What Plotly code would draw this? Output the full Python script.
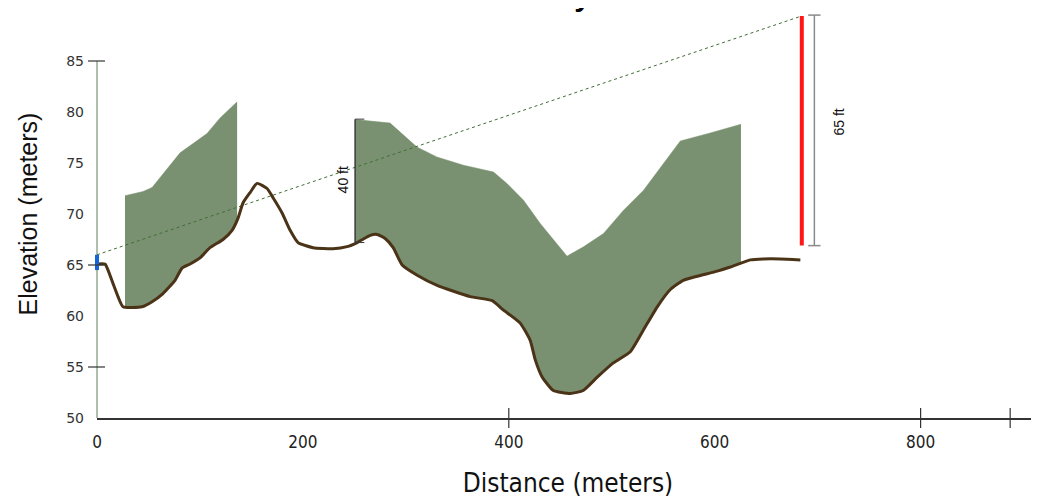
import plotly.graph_objects as go

# ---------------- data (meters / elevation in meters) ----------------
terrain_x = [0, 7.8, 10.7, 15.5, 20.4, 25.3, 43.7, 53.5, 64.1, 75.8, 82.6, 90.4, 100.1, 109.8,
             122.4, 131.2, 137.0, 141.9, 148.7, 155.5, 165.2, 171.0, 179.8, 187.6, 195.3, 209.9,
             229.3, 242.9, 252.7, 265.3, 272.1, 279.9, 287.7, 296.4, 311.0, 330.4, 362.5, 383.9,
             394.6, 411.1, 420.8, 425.7, 432.5, 443.2, 459.7, 472.3, 485.9, 501.5, 518.0, 530.6,
             544.2, 556.9, 569.5, 583.1, 602.5, 615.2, 634.6, 647.2, 663.8, 683.2]
terrain_elev = [65.1, 65.1, 64.5, 63.2, 61.9, 60.9, 60.9, 61.4, 62.2, 63.5, 64.7, 65.1, 65.7, 66.7,
                67.5, 68.4, 69.6, 71.1, 72.1, 73.0, 72.5, 71.6, 70.1, 68.4, 67.2, 66.7,
                66.6, 66.8, 67.2, 67.9, 68.0, 67.6, 66.7, 65.0, 64.0, 63.0, 61.9, 61.5,
                60.6, 59.3, 57.6, 55.7, 54.0, 52.7, 52.4, 52.7, 54.0, 55.4, 56.5, 58.6,
                60.9, 62.6, 63.5, 63.9, 64.4, 64.8, 65.5, 65.6, 65.6, 65.5]

# visible zones: upper boundary
zone1_x = [27.2, 44.7, 53.5, 70.9, 80.7, 93.3, 106.9, 119.5, 136.1]
zone1_top = [71.8, 72.2, 72.6, 74.8, 76.0, 76.9, 77.9, 79.4, 81.0]
zone1_bottom_ends = [60.9, 69.6]

zone2_x = [250.7, 284.7, 296.1, 310.7, 330.1, 356.0, 385.1, 398.2, 414.3, 430.5, 456.5,
           472.6, 492.0, 511.5, 530.9, 550.3, 566.6, 595.7, 625.5]
zone2_top = [79.26, 78.92, 77.88, 76.57, 75.59, 74.78, 74.12, 72.99, 71.35, 69.07, 65.87,
             66.78, 68.09, 70.37, 72.33, 74.95, 77.16, 77.94, 78.8]
zone2_bottom_ends = [67.2, 65.2]

# line of sight: observer -> target
sight_x = [0, 684.0]
sight_elev = [66.0, 89.4]

observer_elev = [64.5, 66.0]
target_x = 684.6
target_elev = [66.9, 89.4]

dim40_x = 250.7
dim40_elev = [67.2, 79.3]
dim65_x = 696.8
dim65_elev = [66.9, 89.5]

x_ticks = [0, 200, 400, 600, 800]
x_tick_marks = [400, 800, 887]
y_ticks = [50, 55, 60, 65, 70, 75, 80, 85]
y_tick_marks = [55, 65, 85]

X_MAX = 915
Y_RANGE = [50, 90]

FILL = "rgb(121,145,113)"
TERRAIN = "#4a3317"
NARROW = "DejaVu Sans Condensed, Liberation Sans Narrow, Arial Narrow, Liberation Sans"

# page has an 8px body margin, so the figure is sized to fit the window
FIG_W, FIG_H = 1031, 490
M_L, M_R, M_T, M_B = 89, 0, 2, 80
PLOT_W = FIG_W - M_L - M_R
PLOT_H = FIG_H - M_T - M_B

# ---------------- figure ----------------
fig = go.Figure()


def zone_bottom(xs, ends):
    bx = [xs[0]] + [x for x in terrain_x if xs[0] < x < xs[-1]] + [xs[-1]]
    be = [ends[0]] + [e for x, e in zip(terrain_x, terrain_elev) if xs[0] < x < xs[-1]] + [ends[1]]
    return bx, be


for zx, zt, ze in [(zone1_x, zone1_top, zone1_bottom_ends), (zone2_x, zone2_top, zone2_bottom_ends)]:
    bx, be = zone_bottom(zx, ze)
    fig.add_trace(go.Scatter(x=bx, y=be, mode="lines", line=dict(width=0, color=FILL),
                             hoverinfo="skip", showlegend=False))
    fig.add_trace(go.Scatter(x=zx, y=zt, mode="lines", line=dict(width=0.5, color=FILL),
                             fill="tonexty", fillcolor=FILL, hoverinfo="skip", showlegend=False))

# line of sight
fig.add_trace(go.Scatter(x=sight_x, y=sight_elev, mode="lines",
                         line=dict(color="#3f6e35", width=1, dash="dot"), showlegend=False))

# terrain profile
fig.add_trace(go.Scatter(x=terrain_x, y=terrain_elev, mode="lines",
                         line=dict(color=TERRAIN, width=3, shape="spline", smoothing=0.5),
                         showlegend=False))

# target (red)
fig.add_trace(go.Scatter(x=[target_x, target_x], y=target_elev, mode="lines",
                         line=dict(color="#ff1616", width=4), showlegend=False))

# 40 ft dimension
fig.add_trace(go.Scatter(x=[dim40_x, dim40_x], y=dim40_elev, mode="lines",
                         line=dict(color="#3a3a3a", width=1.5), showlegend=False))
# 65 ft dimension
fig.add_trace(go.Scatter(x=[dim65_x, dim65_x], y=dim65_elev, mode="lines",
                         line=dict(color="#8a8a8a", width=1.5), showlegend=False))

shapes = []
for e in dim65_elev:
    shapes.append(dict(type="line", xref="x", yref="y", x0=dim65_x - 6, x1=dim65_x + 6, y0=e, y1=e,
                       line=dict(color="#8a8a8a", width=1.5)))
for e in dim40_elev:
    shapes.append(dict(type="line", xref="x", yref="y", x0=dim40_x, x1=dim40_x + 9, y0=e, y1=e,
                       line=dict(color="#3a3a3a", width=1)))

# y axis line (ends at 85)
shapes.append(dict(type="line", xref="paper", yref="y", x0=0, x1=0, y0=50, y1=85,
                   line=dict(color="#93ab8f", width=1.5), layer="below"))
# observer (blue)
shapes.append(dict(type="line", xref="paper", yref="y", x0=0, x1=0,
                   y0=observer_elev[0], y1=observer_elev[1],
                   line=dict(color="#1565d8", width=4)))
# crossing tick marks
for v in y_tick_marks:
    shapes.append(dict(type="line", xref="paper", yref="y", x0=-9 / PLOT_W, x1=8 / PLOT_W, y0=v, y1=v,
                       line=dict(color="#333", width=1.2)))
for v in x_tick_marks:
    shapes.append(dict(type="line", xref="x", yref="paper", x0=v, x1=v,
                       y0=-10 / PLOT_H, y1=10 / PLOT_H,
                       line=dict(color="#333", width=1.2)))

annotations = [
    dict(text="40 ft", x=239, y=73.3, xref="x", yref="y", textangle=-90, showarrow=False,
         font=dict(family="Liberation Sans, Arial", size=14, color="#111")),
    dict(text="65 ft", x=721, y=79.0, xref="x", yref="y", textangle=-90, showarrow=False,
         font=dict(family="Liberation Sans, Arial", size=14, color="#111")),
    dict(text="<b>Visibility</b>", x=0.527, y=1 - 4 / PLOT_H, xref="paper", yref="paper",
         xanchor="right", yanchor="bottom", showarrow=False,
         font=dict(family="Liberation Sans, Arial", size=30, color="#000")),
]

fig.update_layout(
    template="none",
    width=FIG_W, height=FIG_H, autosize=False,
    margin=dict(l=M_L, r=M_R, t=M_T, b=M_B, pad=0),
    plot_bgcolor="white", paper_bgcolor="white",
    shapes=shapes, annotations=annotations,
    showlegend=False,
    xaxis=dict(range=[0, X_MAX], tickvals=x_ticks, ticks="", showgrid=False, zeroline=False,
               automargin=False, ticklabelstandoff=8,
               showline=True, linecolor="#333", linewidth=2,
               tickfont=dict(family=NARROW, size=17, color="#222"),
               title=dict(text="Distance (meters)",
                          font=dict(family=NARROW, size=26, color="#111"))),
    yaxis=dict(range=Y_RANGE, tickvals=y_ticks, ticks="", showgrid=False, zeroline=False,
               automargin=False,
               showline=False, ticklabelstandoff=12,
               tickfont=dict(family="DejaVu Sans", size=14, color="#333"),
               title=dict(text="Elevation (meters)",
                          font=dict(family="Liberation Sans, Arial", size=25, color="#111"))),
)

fig.write_html("out.html")
